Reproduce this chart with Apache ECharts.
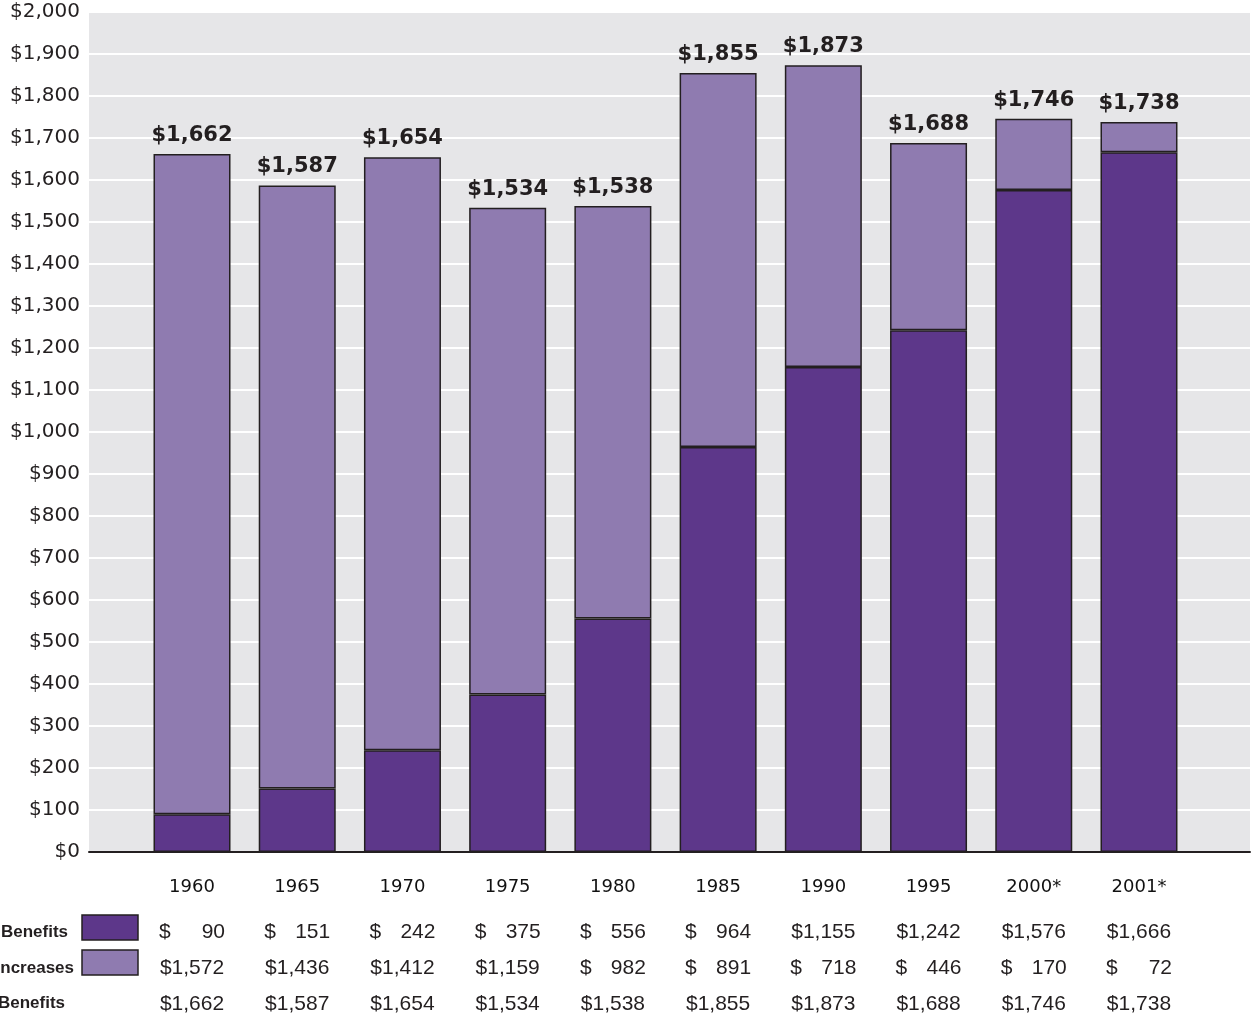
<!DOCTYPE html>
<html>
<head>
<meta charset="utf-8">
<script src="https://cdn.jsdelivr.net/npm/echarts@6/dist/echarts.min.js"></script>
<style>
  html, body { margin: 0; padding: 0; background: #ffffff; }
  #chart { width: 1253px; height: 1016px; }
</style>
</head>
<body>
<div id="chart"></div>
<script>
// Benefit amounts by year (dollars)
const years = ['1960', '1965', '1970', '1975', '1980', '1985', '1990', '1995', '2000*', '2001*'];
const baseBenefits = [90, 151, 242, 375, 556, 964, 1155, 1242, 1576, 1666];
const increases = [1572, 1436, 1412, 1159, 982, 891, 718, 446, 170, 72];
const totalBenefits = [1662, 1587, 1654, 1534, 1538, 1855, 1873, 1688, 1746, 1738];

// Value axis range
const yMin = 0;
const yMax = 2000;
const yStep = 100;

// Row captions of the table under the chart
const rowNames = ['Benefits', 'Increases', 'Benefits'];

const DARK = '#5d378a';
const LIGHT = '#8f7bb0';
const INK = '#231f20';

function money(v) {
  return '$' + v.toLocaleString('en-US');
}

// Table cell: "$" flush left and the figure flush right below 1,000
function cell(v) {
  if (v >= 1000) return '{w|' + money(v) + '}';
  return '{d|$}{n|' + v + '}';
}

const tableRich = {
  w: { width: 66, align: 'center', fontFamily: 'Liberation Sans', fontSize: 21, color: INK, lineHeight: 24 },
  d: { width: 20, align: 'left', fontFamily: 'Liberation Sans', fontSize: 21, color: INK, lineHeight: 24 },
  n: { width: 46, align: 'right', fontFamily: 'Liberation Sans', fontSize: 21, color: INK, lineHeight: 24 }
};

function tableAxis(values, offset) {
  return {
    gridIndex: 1,
    type: 'category',
    data: years,
    position: 'bottom',
    offset: offset,
    axisLine: { show: false },
    axisTick: { show: false },
    splitLine: { show: false },
    axisLabel: {
      margin: 0,
      interval: 0,
      lineHeight: 24,
      formatter: (val, idx) => cell(values[idx]),
      rich: tableRich
    }
  };
}

const chart = echarts.init(document.getElementById('chart'), null, { renderer: 'canvas' });

const option = {
  animation: false,
  backgroundColor: '#ffffff',
  grid: [
    { left: 89, right: 3, top: 12, bottom: 164, show: true, backgroundColor: '#e6e6e8', borderWidth: 0 },
    { left: 139.4, right: 61.4, top: 12, bottom: 164 }
  ],
  xAxis: [
    {
      gridIndex: 0, type: 'value', min: 0, max: 1,
      axisLine: { show: true, lineStyle: { color: INK, width: 2 } },
      axisTick: { show: false }, axisLabel: { show: false }, splitLine: { show: false }
    },
    {
      gridIndex: 1, type: 'category', data: years,
      axisLine: { show: false }, axisTick: { show: false },
      axisLabel: {
        margin: 25, interval: 0, lineHeight: 20,
        fontFamily: 'DejaVu Sans', fontSize: 18, color: '#111111'
      }
    },
    tableAxis(baseBenefits, 68),
    tableAxis(increases, 104),
    tableAxis(totalBenefits, 140)
  ],
  yAxis: [
    {
      gridIndex: 0, type: 'value', min: yMin, max: yMax, interval: yStep,
      axisLine: { show: false }, axisTick: { show: false },
      axisLabel: {
        margin: 9, fontFamily: 'DejaVu Sans', fontSize: 20, color: INK,
        formatter: v => money(v)
      },
      splitLine: { show: true, lineStyle: { color: '#ffffff', width: 2 } }
    },
    {
      gridIndex: 1, type: 'value', min: yMin, max: yMax, interval: yStep, show: false
    }
  ],
  series: [
    {
      name: 'Benefits',
      type: 'bar',
      xAxisIndex: 1, yAxisIndex: 1,
      stack: 'total',
      barWidth: 77,
      data: baseBenefits,
      itemStyle: { color: DARK, borderColor: INK, borderWidth: 1.5 }
    },
    {
      name: 'Increases',
      type: 'bar',
      xAxisIndex: 1, yAxisIndex: 1,
      stack: 'total',
      barWidth: 77,
      data: increases,
      itemStyle: { color: LIGHT, borderColor: INK, borderWidth: 1.5 },
      label: {
        show: true,
        position: 'top',
        distance: 8,
        formatter: p => money(totalBenefits[p.dataIndex]),
        fontFamily: 'DejaVu Sans', fontWeight: 'bold', fontSize: 21, color: INK
      }
    }
  ],
  graphic: [
    // table row captions and colour keys
    { type: 'text', right: 1253 - 68, top: 924, style: { text: rowNames[0], fontFamily: 'Liberation Sans', fontWeight: 'bold', fontSize: 17, fill: INK } },
    { type: 'text', right: 1253 - 74, top: 960, style: { text: rowNames[1], fontFamily: 'Liberation Sans', fontWeight: 'bold', fontSize: 17, fill: INK } },
    { type: 'text', right: 1253 - 65, top: 995, style: { text: rowNames[2], fontFamily: 'Liberation Sans', fontWeight: 'bold', fontSize: 17, fill: INK } },
    { type: 'rect', shape: { x: 82, y: 915, width: 56, height: 25 }, style: { fill: DARK, stroke: INK, lineWidth: 1.5 } },
    { type: 'rect', shape: { x: 82, y: 950, width: 56, height: 25 }, style: { fill: LIGHT, stroke: INK, lineWidth: 1.5 } }
  ]
};

chart.setOption(option);
</script>
</body>
</html>
